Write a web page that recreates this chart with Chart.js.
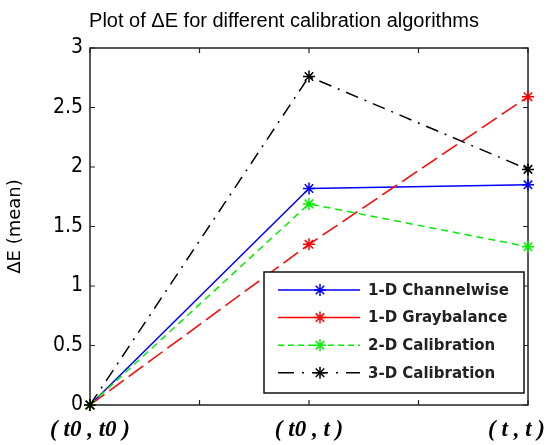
<!DOCTYPE html>
<html><head><meta charset="utf-8">
<script src="https://cdn.jsdelivr.net/npm/chart.js@4.4.1/dist/chart.umd.min.js"></script>
<style>html,body{margin:0;padding:0;background:#fff;}canvas{display:block;}</style>
</head><body>
<canvas id="c" width="554" height="445"></canvas>
<script>
// ---- data ----
const categories = ['( t0 , t0 )', '( t0 , t )', '( t , t )'];
const seriesNames = ['1-D Channelwise', '1-D Graybalance', '2-D Calibration', '3-D Calibration'];
const channelwise = [0, 1.82, 1.85];
const graybalance = [0, 1.35, 2.59];
const calib2d = [0, 1.69, 1.33];
const calib3d = [0, 2.76, 1.98];
const titleText = 'Plot of \u0394E for different calibration algorithms';
const yTitle = '\u0394E (mean)';

const toPts = arr => arr.map((v, i) => ({x: i, y: v}));

function drawStar(ctx, x, y, r, color, lw) {
  const d = r * Math.SQRT1_2;
  ctx.save();
  ctx.setLineDash([]);
  ctx.strokeStyle = color; ctx.lineWidth = lw;
  ctx.beginPath();
  ctx.moveTo(x - r, y); ctx.lineTo(x + r, y);
  ctx.moveTo(x, y - r); ctx.lineTo(x, y + r);
  ctx.moveTo(x - d, y - d); ctx.lineTo(x + d, y + d);
  ctx.moveTo(x - d, y + d); ctx.lineTo(x + d, y - d);
  ctx.stroke();
  ctx.restore();
}

const mk = (label, vals, color, dash, legendDash, order) => ({
  label, data: toPts(vals), borderColor: color, backgroundColor: color,
  borderWidth: 1.5, borderDash: dash, legendDash,
  pointStyle: 'star', pointRadius: 6, pointBorderWidth: 1.5,
  pointBorderColor: color, fill: false, tension: 0, clip: false, order
});

const frame = {
  id: 'frame',
  beforeDatasetsDraw(chart) {
    const {ctx, chartArea: a, scales: {x, y}} = chart;
    ctx.save();
    ctx.strokeStyle = '#222'; ctx.lineWidth = 1.5;
    ctx.strokeRect(a.left, a.top, a.right - a.left, a.bottom - a.top);
    ctx.lineWidth = 1.2;
    ctx.beginPath();
    x.ticks.forEach(t => {
      const p = x.getPixelForValue(t.value);
      ctx.moveTo(p, a.bottom); ctx.lineTo(p, a.bottom - 5);
      ctx.moveTo(p, a.top); ctx.lineTo(p, a.top + 5);
    });
    y.ticks.forEach(t => {
      const p = y.getPixelForValue(t.value);
      ctx.moveTo(a.left, p); ctx.lineTo(a.left + 5, p);
      ctx.moveTo(a.right, p); ctx.lineTo(a.right - 5, p);
    });
    ctx.stroke();
    ctx.restore();
  }
};

const legendBox = {
  id: 'legendBox',
  afterDatasetsDraw(chart) {
    const ctx = chart.ctx;
    const L = 264, T = 272, R = 524, B = 393;
    ctx.save();
    ctx.fillStyle = '#fff'; ctx.fillRect(L, T, R - L, B - T);
    ctx.strokeStyle = '#111'; ctx.lineWidth = 1.5; ctx.strokeRect(L, T, R - L, B - T);
    ctx.font = 'bold 15px "DejaVu Sans"';
    ctx.textBaseline = 'middle'; ctx.textAlign = 'left';
    chart.data.datasets.forEach((ds, i) => {
      const yy = T + 18 + i * 27.6;
      ctx.strokeStyle = ds.borderColor; ctx.lineWidth = 1.5;
      ctx.setLineDash(ds.legendDash);
      ctx.beginPath(); ctx.moveTo(278, yy); ctx.lineTo(360, yy); ctx.stroke();
      ctx.setLineDash([]);
      drawStar(ctx, 320, yy, 6, ds.borderColor, 1.5);
      ctx.fillStyle = '#222';
      ctx.fillText(ds.label, 368, yy + 1);
    });
    ctx.restore();
  }
};

new Chart(document.getElementById('c'), {
  type: 'line',
  data: {
    datasets: [
      mk(seriesNames[0], channelwise, '#0000ff', [], [], 3),
      mk(seriesNames[1], graybalance, '#ff0000', [18, 6], [], 2),
      mk(seriesNames[2], calib2d, '#00ee00', [7, 5], [6, 4], 1),
      mk(seriesNames[3], calib3d, '#000000', [13, 7, 2, 7], [16, 8, 2, 8], 0)
    ]
  },
  options: {
    responsive: false, animation: false, devicePixelRatio: 1,
    layout: {padding: {left: 0, right: 26, top: 0, bottom: 0}},
    plugins: {
      legend: {display: false}, tooltip: {enabled: false},
      title: {
        display: true, text: '\u2003\u2003' + titleText, color: '#000',
        font: {family: 'Liberation Sans', size: 20, weight: 'normal', lineHeight: 1.2},
        padding: {top: 9, bottom: 15}
      }
    },
    scales: {
      x: {
        type: 'linear', min: 0, max: 2,
        grid: {display: false, drawTicks: false}, border: {display: false},
        ticks: {
          stepSize: 0.5, autoSkip: false, maxRotation: 0, minRotation: 0, color: '#000',
          font: {family: 'Liberation Serif', size: 23, style: 'italic', weight: 'bold'},
          padding: 11,
          callback: v => Number.isInteger(v) ? (v === categories.length - 1 ? categories[v] + '\u2003' : categories[v]) : ''
        },
        afterFit: s => { s.height = 40; s.paddingLeft = 0; s.paddingRight = 0; }
      },
      y: {
        min: 0, max: 3,
        grid: {display: false, drawTicks: false}, border: {display: false},
        ticks: {stepSize: 0.5, color: '#000', font: {family: '"DejaVu Sans Condensed", Roboto', size: 21, weight: 'normal'}, padding: 7,
          callback: v => String(v)},
        title: {display: true, text: yTitle, color: '#000', font: {family: 'DejaVu Sans', size: 18}, padding: {top: 5, bottom: 0}},
        afterFit: s => { s.width = 90; }
      }
    }
  },
  plugins: [frame, legendBox]
});
</script>
</body></html>
